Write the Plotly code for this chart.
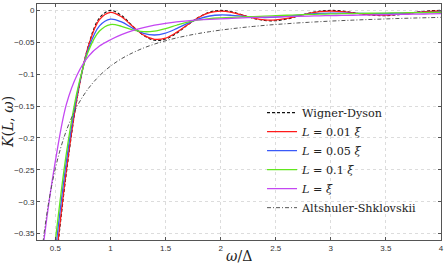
import plotly.graph_objects as go

# ---- data ----
omega = [0.3, 0.4, 0.5, 0.6, 0.7, 0.8, 0.9, 1.0, 1.1, 1.2, 1.3, 1.4, 1.5, 1.6, 1.7, 1.8, 1.9,
         2.0, 2.1, 2.2, 2.3, 2.4, 2.5, 2.6, 2.7, 2.8, 2.9, 3.0, 3.1, 3.2, 3.3, 3.4, 3.5, 3.6,
         3.7, 3.8, 3.9, 4.0]

wigner_dyson = [-0.737, -0.573, -0.405, -0.2545, -0.1353, -0.0547, -0.0119, 0.0, -0.0080, -0.0243,
                -0.0392, -0.0468, -0.0450, -0.0358, -0.0229, -0.0108, -0.0027, 0.0, -0.0022, -0.0072,
                -0.0125, -0.0159, -0.0162, -0.0136, -0.0091, -0.0045, -0.0012, 0.0, -0.0010, -0.0034,
                -0.0061, -0.0079, -0.0083, -0.0071, -0.0048, -0.0024, -0.0006, 0.0]

k_l001 = [-0.7333, -0.5650, -0.3991, -0.2500, -0.1341, -0.0559, -0.01447, -0.00304, -0.01003, -0.02496,
          -0.03869, -0.0453, -0.04346, -0.03452, -0.02251, -0.01124, -0.0037, -0.00127, -0.00322, -0.00762,
          -0.01216, -0.01492, -0.0150, -0.01258, -0.00873, -0.00482, -0.00208, -0.00113, -0.0019, -0.00376,
          -0.00576, -0.00707, -0.00725, -0.00625, -0.00453, -0.00273, -0.00142, -0.00095]

k_l005 = [-0.7229, -0.5446, -0.3778, -0.2363, -0.1293, -0.0601, -0.02434, -0.01368, -0.01816, -0.0279,
          -0.03591, -0.03861, -0.03558, -0.0286, -0.02035, -0.01327, -0.00881, -0.00722, -0.00777, -0.00924,
          -0.01065, -0.01122, -0.01071, -0.00931, -0.00755, -0.00594, -0.00483, -0.00434, -0.00435, -0.00464,
          -0.00492, -0.00502, -0.00484, -0.00442, -0.00387, -0.00336, -0.00298, -0.00279]

k_l01 = [-0.7125, -0.5266, -0.3606, -0.2238, -0.1251, -0.06375, -0.03243, -0.02229, -0.02493, -0.0305,
         -0.03341, -0.03254, -0.0286, -0.02331, -0.01845, -0.01501, -0.0129, -0.01178, -0.01093, -0.01031,
         -0.0097, -0.00905, -0.00835, -0.00764, -0.00699, -0.00642, -0.00595, -0.00556, -0.00524, -0.00494,
         -0.00466, -0.00441, -0.00418, -0.00394, -0.00371, -0.00351, -0.00332, -0.00315]

k_l1 = [-0.52, -0.355, -0.236, -0.147, -0.100, -0.072, -0.056, -0.046, -0.038, -0.0318,
        -0.0270, -0.0232, -0.0203, -0.0180, -0.0163, -0.0150, -0.0140, -0.0132, -0.0125, -0.0118,
        -0.0112, -0.0107, -0.0102, -0.0098, -0.0093, -0.0089, -0.0085, -0.0082, -0.0079, -0.0076,
        -0.0073, -0.0070, -0.0067, -0.0064, -0.0061, -0.0058, -0.0055, -0.0052]

altshuler_shklovskii = [-0.5325, -0.346, -0.2475, -0.1883, -0.1494, -0.1223, -0.1025, -0.0875, -0.0758, -0.0666,
                        -0.0590, -0.0528, -0.0476, -0.0432, -0.0395, -0.0362, -0.0334, -0.0309, -0.0288, -0.0268,
                        -0.0251, -0.0235, -0.0221, -0.0209, -0.0197, -0.0187, -0.0177, -0.0168, -0.0160, -0.0153,
                        -0.0146, -0.0140, -0.0134, -0.0128, -0.0123, -0.0118, -0.0114, -0.0109]

x_tickvals = [0.5, 1, 1.5, 2, 2.5, 3, 3.5, 4]
x_ticktext = ["0.5", "1", "1.5", "2", "2.5", "3", "3.5", "4"]
y_tickvals = [0, -0.05, -0.1, -0.15, -0.2, -0.25, -0.3, -0.35]
y_ticktext = ["0", "\u22120.05", "\u22120.1", "\u22120.15", "\u22120.2", "\u22120.25", "\u22120.3", "\u22120.35"]

series = [
    ("Wigner-Dyson", wigner_dyson, "#111111", "3px,2px", 1.1),
    ("<i>L</i> = 0.01 <i>\u03be</i>", k_l001, "#ff1a1a", "solid", 1.3),
    ("<i>L</i> = 0.05 <i>\u03be</i>", k_l005, "#3a5af8", "solid", 1.3),
    ("<i>L</i> = 0.1 <i>\u03be</i>", k_l01, "#62e61e", "solid", 1.3),
    ("<i>L</i> = <i>\u03be</i>", k_l1, "#c447f2", "solid", 1.3),
    ("Altshuler-Shklovskii", altshuler_shklovskii, "#555555", "4px,2px,1px,2px", 1.0),
]

fig = go.Figure()
for name, vals, color, dash, width in series:
    fig.add_trace(go.Scatter(
        x=omega, y=vals, mode="lines", name=name,
        line=dict(color=color, width=width, dash=dash, shape="spline", smoothing=1.0),
    ))

axis_common = dict(
    showline=True, linecolor="#555555", linewidth=1, mirror="ticks",
    ticks="inside", ticklen=3, tickcolor="#555555",
    showgrid=True, gridcolor="#dcdcdc", griddash="dot", gridwidth=1,
    zeroline=False, automargin=False,
    tickfont=dict(family="Liberation Sans, Arial, sans-serif", size=8, color="#333333"),
)

serif = "DejaVu Serif, serif"

fig.update_layout(
    width=447, height=265,
    margin=dict(l=37, r=6, t=4, b=25),
    paper_bgcolor="white", plot_bgcolor="white",
    showlegend=True,
    legend=dict(
        x=0.557, y=0.601, xanchor="left", yanchor="top",
        bgcolor="rgba(255,255,255,0)", borderwidth=0,
        font=dict(family=serif, size=11.2, color="#222222"),
        itemwidth=30, tracegroupgap=0,
    ),
    xaxis=dict(range=[0.333, 4], tickvals=x_tickvals, ticktext=x_ticktext, **axis_common),
    yaxis=dict(range=[-0.36, 0.01], tickvals=y_tickvals, ticktext=y_ticktext, **axis_common),
    annotations=[
        dict(text="<i>\u03c9</i>/\u0394", xref="paper", yref="paper", x=0.5, y=-0.068,
             xanchor="center", yanchor="middle", showarrow=False,
             font=dict(family=serif, size=14, color="#222222")),
        dict(text="<i>K</i>(<i>L</i>, <i>\u03c9</i>)", xref="paper", yref="paper", x=-0.072, y=0.5,
             xanchor="center", yanchor="middle", showarrow=False, textangle=-90,
             font=dict(family=serif, size=14, color="#222222")),
    ],
)

fig.write_html("out.html", config={"displayModeBar": False},
               post_script="document.body.style.margin='0';document.body.style.overflow='hidden';")
